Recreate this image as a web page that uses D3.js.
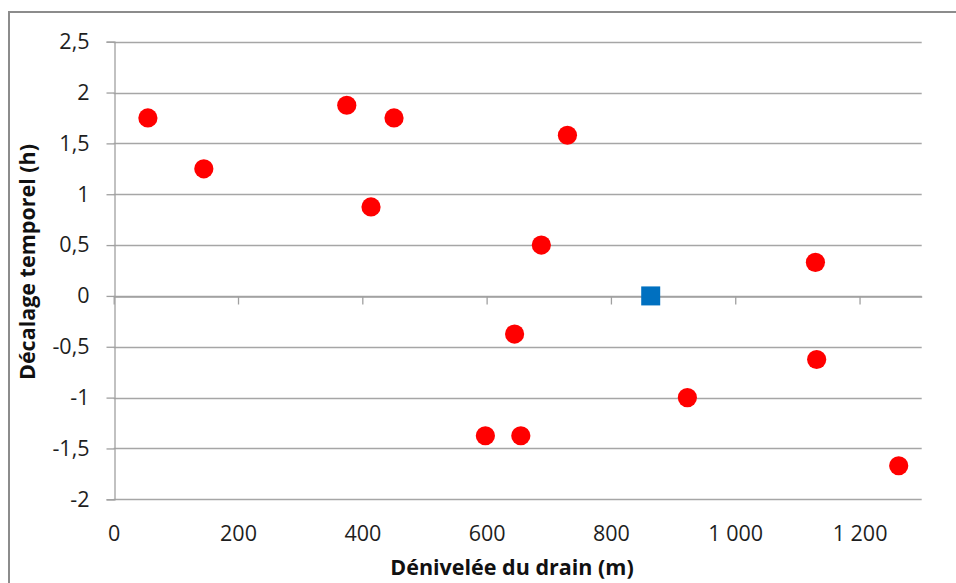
<!DOCTYPE html>
<html><head><meta charset="utf-8">
<script src="https://cdn.jsdelivr.net/npm/d3@7"></script>
<style>body{margin:0;background:#fff}svg{display:block}</style>
</head><body>
<svg id="c" width="956" height="583"></svg>
<script>
const xValues = [55, 145, 375, 414, 451, 598, 645, 655, 688, 730, 923, 1129, 1131, 1263];
const yValues = [1.75, 1.25, 1.875, 0.875, 1.75, -1.375, -0.375, -1.375, 0.5, 1.58, -1, 0.33, -0.625, -1.67];
const refX = [864];
const refY = [0];
const xTicks = [0, 200, 400, 600, 800, 1000, 1200];
const xTickLabels = ["0", "200", "400", "600", "800", "1 000", "1 200"];
const yTicks = [-2, -1.5, -1, -0.5, 0, 0.5, 1, 1.5, 2, 2.5];
const yTickLabels = ["-2", "-1,5", "-1", "-0,5", "0", "0,5", "1", "1,5", "2", "2,5"];
const xTitle = "Dénivelée du drain (m)";
const yTitle = "Décalage temporel (h)";

const svg = d3.select("#c");
const font = "'Open Sans', sans-serif";
const x = d3.scaleLinear().domain([0, 1300]).range([113.7, 921.7]);
const y = d3.scaleLinear().domain([-2, 2.5]).range([499.3, 41.7]);

// outer border
svg.append("rect").attr("x", 9).attr("y", 12).attr("width", 960).attr("height", 600)
  .attr("fill", "none").attr("stroke", "#8c8c8c").attr("stroke-width", 2);

// gridlines
svg.append("g").selectAll("line").data(yTicks).join("line")
  .attr("x1", x(0)).attr("x2", x(1300))
  .attr("y1", d => Math.round(y(d)) + 0.5).attr("y2", d => Math.round(y(d)) + 0.5)
  .attr("stroke", "#a6a6a6").attr("stroke-width", 1.3);

// y axis
const yAxis = svg.append("g").attr("transform", `translate(${Math.round(x(0)) + 0.5},0)`)
  .call(d3.axisLeft(y).tickValues(yTicks).tickSize(8).tickPadding(17)
    .tickFormat((d, i) => yTickLabels[i]));
yAxis.select(".domain").attr("stroke", "#a0a0a0").attr("stroke-width", 1.3);
yAxis.selectAll(".tick line").attr("stroke", "#a0a0a0").attr("stroke-width", 1.3);
yAxis.selectAll("text").attr("font-family", font).attr("font-size", 21.5).attr("fill", "#1e1e1e");

// x axis at y=0
const xAxis = svg.append("g").attr("transform", `translate(0,${Math.round(y(0)) + 0.5})`)
  .call(d3.axisBottom(x).tickValues(xTicks).tickSize(8).tickSizeOuter(0).tickFormat(""));
xAxis.select(".domain").attr("stroke", "#a0a0a0").attr("stroke-width", 1.3);
xAxis.selectAll(".tick line").attr("stroke", "#a0a0a0").attr("stroke-width", 1.3);

// x tick labels at bottom
const xLab = svg.append("g").attr("transform", `translate(0,${y(-2) + 23})`)
  .call(d3.axisBottom(x).tickValues(xTicks).tickSize(0).tickFormat((d, i) => xTickLabels[i]));
xLab.select(".domain").remove();
xLab.selectAll("text").attr("font-family", font).attr("font-size", 21.5).attr("fill", "#1e1e1e");

// points
svg.append("g").selectAll("circle").data(xValues).join("circle")
  .attr("cx", d => x(d)).attr("cy", (d, i) => y(yValues[i])).attr("r", 9.6)
  .attr("fill", "#ff0000");
svg.append("g").selectAll("rect").data(refX).join("rect")
  .attr("x", d => x(d) - 9.5).attr("y", (d, i) => y(refY[i]) - 9.5)
  .attr("width", 19).attr("height", 19).attr("fill", "#0070c0");

// titles
svg.append("text").attr("x", 512).attr("y", 575).attr("text-anchor", "middle")
  .attr("font-family", font).attr("font-weight", "bold").attr("font-size", 21.5)
  .attr("fill", "#111").text(xTitle);
svg.append("text").attr("transform", "translate(35,262) rotate(-90)").attr("text-anchor", "middle")
  .attr("font-family", font).attr("font-weight", "bold").attr("font-size", 21.5)
  .attr("fill", "#111").text(yTitle);
</script>
</body></html>
